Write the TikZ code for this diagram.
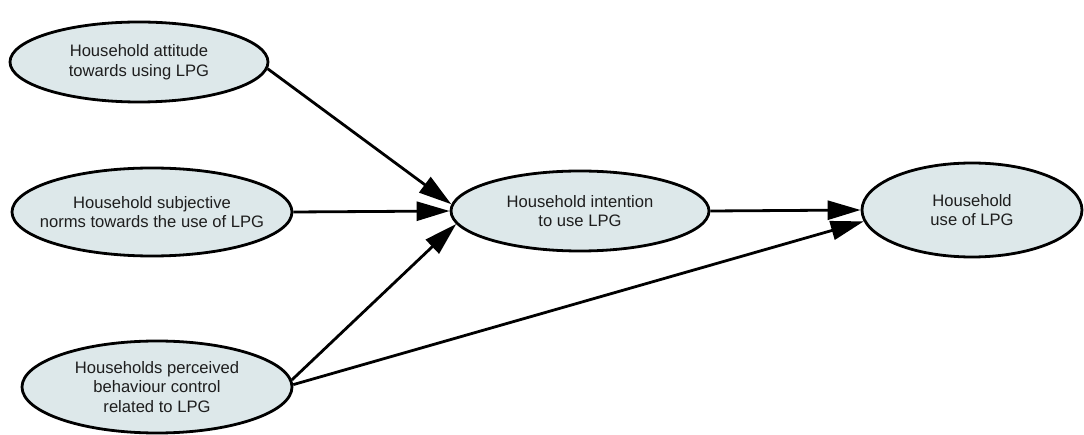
\documentclass[tikz,border=0pt]{standalone}
\usepackage{fontspec}
\setmainfont{Liberation Sans}
\usetikzlibrary{shapes.geometric,arrows.meta}
\definecolor{nodefill}{RGB}{221,232,234}
\definecolor{nodetext}{RGB}{30,30,30}
\tikzset{
  construct/.style={ellipse, draw=black, line width=2.8pt, fill=nodefill,
    inner xsep=-25pt, inner ysep=0pt, align=center, text=nodetext,
    font=\fontsize{16.6}{19.5}\selectfont},
  path/.style={draw=black, line width=2.8pt,
    -{Triangle[length=33pt,width=19pt]}}
}
\begin{document}
\begin{tikzpicture}[x=1pt,y=-1pt]
\useasboundingbox (0,0) rectangle (1084,435);
\node[construct, minimum width=258pt, minimum height=80pt] (att) at (139,62)
  {Household attitude\\towards using LPG};
\node[construct, minimum width=280pt, minimum height=88pt] (norm) at (152,212)
  {Household subjective\\norms towards the use of LPG};
\node[construct, minimum width=270pt, minimum height=92pt] (pbc) at (157,387)
  {Households perceived\\behaviour control\\related to LPG};
\node[construct, minimum width=258pt, minimum height=80pt] (int) at (580,211)
  {Household intention\\to use LPG};
\node[construct, minimum width=220pt, minimum height=94pt] (use) at (972,210)
  {Household\\use of LPG};
\draw[path] (att.357) -- (int.177);
\draw[path] (norm.east) -- (int.west);
\draw[path] (pbc.3) -- (int.186);
\draw[path] (pbc.1) -- (use.186);
\draw[path] (int.east) -- (use.west);
\end{tikzpicture}
\end{document}
